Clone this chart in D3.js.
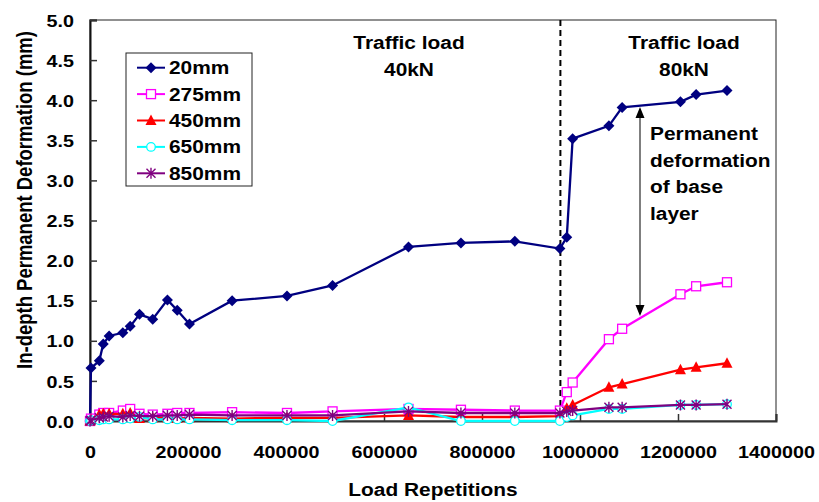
<!DOCTYPE html>
<html>
<head>
<meta charset="utf-8">
<script src="https://cdn.jsdelivr.net/npm/d3@7/dist/d3.min.js"></script>
<style>
  body { margin: 0; background: #fff; }
  svg text { font-family: "Liberation Sans", Arial, sans-serif; font-weight: bold; fill: #000; }
</style>
</head>
<body>
<script>
// Load repetitions at which every depth was measured
const reps = [0, 2000, 19000, 27000, 39000, 67000, 82000, 101000, 128000, 158000, 178000, 203000,
  290000, 402000, 495000, 650000, 757000, 867000, 959000, 973000, 985000, 1059000, 1086000,
  1205000, 1237000, 1300000];

const d20 = [0, 0.66, 0.75, 0.96, 1.06, 1.10, 1.18, 1.33, 1.27, 1.51, 1.38, 1.21, 1.50, 1.56, 1.69,
  2.17, 2.22, 2.24, 2.15, 2.29, 3.52, 3.68, 3.91, 3.98, 4.07, 4.12];
const d275 = [0, 0.03, 0.08, 0.10, 0.10, 0.13, 0.15, 0.09, 0.08, 0.09, 0.10, 0.10, 0.11, 0.10, 0.12,
  0.15, 0.14, 0.13, 0.13, 0.36, 0.48, 1.02, 1.15, 1.58, 1.68, 1.73];
const d450 = [0, 0.02, 0.08, 0.09, 0.09, 0.09, 0.10, 0.03, 0.04, 0.04, 0.03, 0.04, 0.03, 0.04, 0.04,
  0.07, 0.05, 0.05, 0.06, 0.16, 0.20, 0.42, 0.46, 0.64, 0.67, 0.72];
const d650 = [0, 0.01, 0.01, 0.02, 0.02, 0.02, 0.03, 0.05, 0.02, 0.02, 0.02, 0.02, 0.01, 0.01, 0.0,
  0.17, 0.0, 0.0, 0.0, 0.05, 0.07, 0.15, 0.15, 0.20, 0.20, 0.21];
const d850 = [0, 0.01, 0.04, 0.05, 0.06, 0.05, 0.07, 0.06, 0.06, 0.07, 0.07, 0.08, 0.07, 0.07, 0.07,
  0.12, 0.10, 0.10, 0.10, 0.12, 0.13, 0.17, 0.17, 0.20, 0.20, 0.21];

const seriesNames = ['20mm', '275mm', '450mm', '650mm', '850mm'];
const xTicks = [0, 200000, 400000, 600000, 800000, 1000000, 1200000, 1400000];
const yTicks = [0, 0.5, 1, 1.5, 2, 2.5, 3, 3.5, 4, 4.5, 5];
const loadChange = 960000;

const series = [
  { name: seriesNames[0], values: d20, color: '#000080', marker: 'diamond' },
  { name: seriesNames[1], values: d275, color: '#ff00ff', marker: 'square' },
  { name: seriesNames[2], values: d450, color: '#ff0000', marker: 'triangle' },
  { name: seriesNames[3], values: d650, color: '#00ffff', marker: 'circle' },
  { name: seriesNames[4], values: d850, color: '#800080', marker: 'star' }
];

const width = 819, height = 502;
const plot = { left: 90, right: 776, top: 20, bottom: 421 };
const sx = 1.16; // the source chart is stretched sideways

const x = d3.scaleLinear().domain([0, 1400000]).range([plot.left, plot.right]);
const y = d3.scaleLinear().domain([0, 5]).range([plot.bottom, plot.top]);

const svg = d3.select('body').append('svg')
  .attr('width', width)
  .attr('height', height);

// plot frame
svg.append('rect')
  .attr('x', plot.left).attr('y', plot.top)
  .attr('width', plot.right - plot.left).attr('height', plot.bottom - plot.top)
  .attr('fill', 'none').attr('stroke', '#222').attr('stroke-width', 1);

// axes with inward ticks
const xAxis = svg.append('g')
  .attr('transform', `translate(0,${plot.bottom})`)
  .call(d3.axisBottom(x).tickValues(xTicks).tickSize(-7).tickPadding(0).tickFormat(d3.format('d')));
xAxis.select('.domain').attr('stroke', '#333').attr('stroke-width', 2);
xAxis.selectAll('.tick line').attr('stroke', '#333').attr('stroke-width', 1.5);
xAxis.selectAll('.tick text')
  .attr('y', 37).attr('dy', null)
  .attr('transform', `scale(${sx},1)`)
  .style('font-size', '17px');

const yAxis = svg.append('g')
  .attr('transform', `translate(${plot.left},0)`)
  .call(d3.axisLeft(y).tickValues(yTicks).tickSize(-7).tickFormat(d3.format('.1f')));
yAxis.select('.domain').attr('stroke', '#111').attr('stroke-width', 2);
yAxis.selectAll('.tick line').attr('stroke', '#333').attr('stroke-width', 1.5);
yAxis.selectAll('.tick text')
  .attr('x', -16 / sx).attr('dy', '0.36em')
  .attr('transform', `scale(${sx},1)`)
  .style('font-size', '17px');

// change of load
svg.append('line')
  .attr('x1', x(loadChange)).attr('x2', x(loadChange))
  .attr('y1', plot.top).attr('y2', plot.bottom)
  .attr('stroke', '#000').attr('stroke-width', 2).attr('stroke-dasharray', '6,4');

function stretchedText(tx, ty, str, size, anchor) {
  svg.append('text')
    .attr('transform', `translate(${tx},${ty}) scale(${sx},1)`)
    .attr('text-anchor', anchor || 'middle')
    .style('font-size', size + 'px')
    .text(str);
}

stretchedText(409, 49, 'Traffic load', 18);
stretchedText(409, 76, '40kN', 18);
stretchedText(684, 49, 'Traffic load', 18);
stretchedText(684, 76, '80kN', 18);

['Permanent', 'deformation', 'of base', 'layer'].forEach((t, i) => {
  stretchedText(650, 140 + i * 26.5, t, 18, 'start');
});

// double arrow between 20mm and 275mm curves
const arrowX = 640;
const arrowTop = 107, arrowBottom = 316;
svg.append('line')
  .attr('x1', arrowX).attr('x2', arrowX)
  .attr('y1', arrowTop + 8).attr('y2', arrowBottom - 8)
  .attr('stroke', '#555').attr('stroke-width', 1.5);
svg.append('path')
  .attr('d', `M${arrowX},${arrowTop} l-4.5,11 h9 z M${arrowX},${arrowBottom} l-4.5,-11 h9 z`)
  .attr('fill', '#000');

function drawMarker(g, type, color) {
  if (type === 'diamond') {
    g.append('path').attr('d', 'M0,-5.5 L5.5,0 L0,5.5 L-5.5,0 Z').attr('fill', color);
  } else if (type === 'square') {
    g.append('rect').attr('x', -4.5).attr('y', -4.5).attr('width', 9).attr('height', 9)
      .attr('fill', '#fff').attr('stroke', color).attr('stroke-width', 1.3);
  } else if (type === 'triangle') {
    g.append('path').attr('d', 'M0,-6 L5.5,4.5 L-5.5,4.5 Z').attr('fill', color);
  } else if (type === 'circle') {
    g.append('circle').attr('r', 4.3).attr('fill', '#fff')
      .attr('stroke', color).attr('stroke-width', 1.3);
  } else {
    g.append('path').attr('d', 'M-4.5,-4.5 L4.5,4.5 M-4.5,4.5 L4.5,-4.5 M0,-5.5 V5.5')
      .attr('stroke', color).attr('stroke-width', 1.4);
  }
}

const line = d3.line()
  .x((d, i) => x(reps[i]))
  .y(d => y(d));

series.forEach(s => {
  svg.append('path')
    .datum(s.values)
    .attr('d', line)
    .attr('fill', 'none')
    .attr('stroke', s.color)
    .attr('stroke-width', 2.3);
  svg.append('g').selectAll('g')
    .data(s.values)
    .join('g')
    .attr('transform', (d, i) => `translate(${x(reps[i])},${y(d)})`)
    .each(function () { drawMarker(d3.select(this), s.marker, s.color); });
});

// legend
const legend = svg.append('g');
legend.append('rect')
  .attr('x', 126).attr('y', 53).attr('width', 126).attr('height', 133)
  .attr('fill', '#fff').attr('stroke', '#222').attr('stroke-width', 1);
series.forEach((s, i) => {
  const ly = 67.7 + i * 26.4;
  legend.append('line')
    .attr('x1', 137).attr('x2', 165).attr('y1', ly).attr('y2', ly)
    .attr('stroke', s.color).attr('stroke-width', 2);
  drawMarker(legend.append('g').attr('transform', `translate(151,${ly})`), s.marker, s.color);
  legend.append('text')
    .attr('transform', `translate(169,${ly + 6.5}) scale(${sx},1)`)
    .style('font-size', '18px')
    .text(s.name);
});

// axis titles
stretchedText(433, 496, 'Load Repetitions', 18);
svg.append('text')
  .attr('transform', `translate(32,200) scale(${sx},1) rotate(-90)`)
  .attr('text-anchor', 'middle')
  .style('font-size', '18.5px')
  .text('In-depth Permanent Deformation (mm)');
</script>
</body>
</html>
